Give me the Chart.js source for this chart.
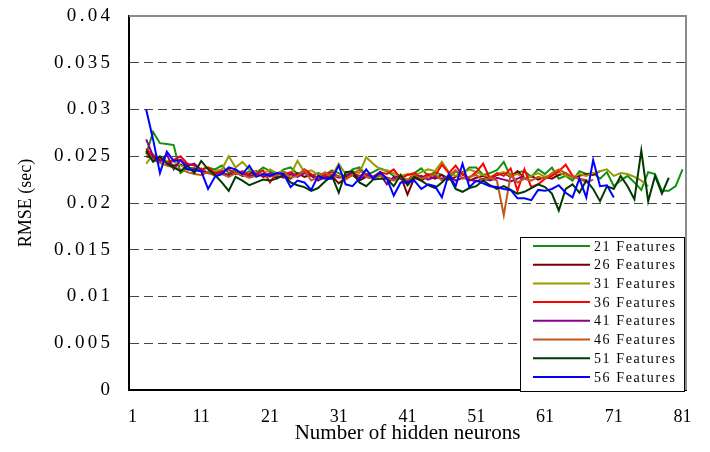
<!DOCTYPE html>
<html>
<head>
<meta charset="utf-8">
<script src="https://cdn.jsdelivr.net/npm/chart.js@4/dist/chart.umd.min.js"></script>
<style>
  html, body { margin: 0; padding: 0; background: #fff; }
  #wrap { width: 710px; height: 452px; position: relative; }
</style>
</head>
<body>
<div id="wrap"><canvas id="c" width="710" height="452"></canvas></div>
<script>
// Categories: number of hidden neurons
const neurons = [1,2,3,4,5,6,7,8,9,10,11,12,13,14,15,16,17,18,19,20,21,22,23,24,25,26,27,28,29,30,
  31,32,33,34,35,36,37,38,39,40,41,42,43,44,45,46,47,48,49,50,51,52,53,54,55,56,57,58,59,60,
  61,62,63,64,65,66,67,68,69,70,71,72,73,74,75,76,77,78,79,80,81];
// every series starts at 3 hidden neurons
const firstNeuron = 3;
const yTickLabels = ['0','0.005','0.01','0.015','0.02','0.025','0.03','0.035','0.04'];
const seriesNames = ['21 Features','26 Features','31 Features','36 Features','41 Features','46 Features','51 Features','56 Features'];

const f21 = [0.0252,0.0276,0.0264,0.0263,0.0262,0.0232,0.0238,0.0237,0.0236,0.0238,
  0.0236,0.0240,0.0232,0.0236,0.0230,0.0234,0.0232,0.0238,0.0234,0.0230,
  0.0236,0.0238,0.0231,0.0234,0.0229,0.0232,0.0230,0.0235,0.0232,0.0228,
  0.0236,0.0238,0.0230,0.0233,0.0237,0.0234,0.0229,0.0227,0.0224,0.0232,
  0.0237,0.0229,0.0233,0.0230,0.0226,0.0234,0.0231,0.0238,0.0238,0.0230,
  0.0232,0.0235,0.0244,0.0228,0.0233,0.0234,0.0228,0.0236,0.0231,0.0238,
  0.0226,0.0229,0.0224,0.0234,0.0231,0.0232,0.0226,0.0233,0.0218,0.0224,
  0.0229,0.0222,0.0214,0.0233,0.0231,0.0213,0.0213,0.0218,0.0236];
const f26 = [0.0250,0.0248,0.0246,0.0244,0.0240,0.0241,0.0236,0.0237,0.0234,0.0233,
  0.0231,0.0232,0.0230,0.0233,0.0229,0.0231,0.0234,0.0228,0.0230,0.0227,
  0.0229,0.0226,0.0232,0.0228,0.0230,0.0225,0.0227,0.0229,0.0221,0.0227,
  0.0230,0.0224,0.0228,0.0226,0.0231,0.0227,0.0225,0.0229,0.0209,0.0227,
  0.0224,0.0229,0.0226,0.0230,0.0225,0.0228,0.0233,0.0224,0.0227,0.0229,
  0.0226,0.0230,0.0232,0.0228,0.0234,0.0226,0.0229,0.0225,0.0228,0.0226,
  0.0230,0.0232,0.0227,0.0229,0.0231,0.0230,0.0234];
const f31 = [0.0242,0.0252,0.0248,0.0245,0.0244,0.0240,0.0238,0.0235,0.0237,0.0232,
  0.0234,0.0236,0.0250,0.0238,0.0244,0.0236,0.0233,0.0231,0.0236,0.0232,
  0.0234,0.0230,0.0245,0.0233,0.0235,0.0230,0.0232,0.0229,0.0242,0.0231,
  0.0234,0.0232,0.0249,0.0242,0.0236,0.0235,0.0232,0.0229,0.0231,0.0229,
  0.0233,0.0236,0.0234,0.0244,0.0233,0.0229,0.0232,0.0236,0.0233,0.0230,
  0.0228,0.0231,0.0233,0.0229,0.0231,0.0226,0.0229,0.0232,0.0228,0.0230,
  0.0233,0.0229,0.0227,0.0231,0.0229,0.0232,0.0234,0.0236,0.0229,0.0232,
  0.0231,0.0228,0.0224,0.0218];
const f36 = [0.0258,0.0250,0.0248,0.0243,0.0246,0.0250,0.0242,0.0240,0.0236,0.0238,
  0.0232,0.0234,0.0236,0.0231,0.0234,0.0229,0.0231,0.0235,0.0222,0.0232,
  0.0230,0.0233,0.0229,0.0236,0.0231,0.0227,0.0230,0.0233,0.0228,0.0226,
  0.0232,0.0229,0.0231,0.0228,0.0233,0.0231,0.0236,0.0226,0.0230,0.0232,
  0.0227,0.0231,0.0229,0.0241,0.0232,0.0240,0.0230,0.0227,0.0233,0.0242,
  0.0226,0.0232,0.0229,0.0237,0.0213,0.0236,0.0217,0.0220,0.0226,0.0229,
  0.0234,0.0241,0.0229,0.0226,0.0224];
const f41 = [0.0268,0.0250,0.0244,0.0252,0.0236,0.0246,0.0240,0.0242,0.0235,0.0232,
  0.0230,0.0233,0.0229,0.0232,0.0230,0.0228,0.0231,0.0229,0.0232,0.0229,
  0.0227,0.0231,0.0228,0.0232,0.0229,0.0224,0.0228,0.0230,0.0227,0.0229,
  0.0233,0.0226,0.0229,0.0228,0.0231,0.0220,0.0228,0.0226,0.0223,0.0227,
  0.0229,0.0225,0.0228,0.0226,0.0229,0.0224,0.0227,0.0225,0.0223,0.0226,
  0.0224,0.0227,0.0225,0.0223,0.0226,0.0229];
const f46 = [0.0255,0.0246,0.0243,0.0240,0.0238,0.0236,0.0233,0.0231,0.0230,0.0233,
  0.0229,0.0231,0.0228,0.0232,0.0230,0.0227,0.0229,0.0231,0.0228,0.0230,
  0.0233,0.0227,0.0229,0.0235,0.0224,0.0228,0.0233,0.0227,0.0229,0.0225,
  0.0230,0.0236,0.0228,0.0226,0.0229,0.0227,0.0224,0.0228,0.0225,0.0229,
  0.0226,0.0228,0.0231,0.0224,0.0229,0.0235,0.0226,0.0228,0.0230,0.0224,
  0.0227,0.0224,0.0187,0.0230,0.0222,0.0226,0.0224,0.0228,0.0226,0.0232,
  0.0236,0.0232,0.0228,0.0226,0.0222,0.0225];
const f51 = [0.0256,0.0244,0.0250,0.0242,0.0238,0.0234,0.0240,0.0232,0.0245,0.0236,
  0.0230,0.0222,0.0213,0.0228,0.0224,0.0219,0.0222,0.0225,0.0224,0.0226,
  0.0230,0.0222,0.0219,0.0217,0.0213,0.0216,0.0223,0.0229,0.0211,0.0233,
  0.0234,0.0222,0.0218,0.0225,0.0226,0.0226,0.0218,0.0230,0.0219,0.0228,
  0.0224,0.0219,0.0216,0.0222,0.0229,0.0215,0.0212,0.0216,0.0218,0.0224,
  0.0219,0.0215,0.0218,0.0214,0.0210,0.0212,0.0216,0.0220,0.0217,0.0210,
  0.0192,0.0215,0.0220,0.0211,0.0224,0.0215,0.0202,0.0218,0.0215,0.0229,
  0.0218,0.0204,0.0256,0.0202,0.0229,0.0210,0.0227];
const f56 = [0.0300,0.0268,0.0232,0.0255,0.0245,0.0246,0.0236,0.0235,0.0234,0.0215,
  0.0228,0.0231,0.0238,0.0236,0.0231,0.0240,0.0228,0.0231,0.0229,0.0232,
  0.0231,0.0217,0.0224,0.0222,0.0214,0.0229,0.0226,0.0226,0.0240,0.0220,
  0.0218,0.0226,0.0236,0.0226,0.0233,0.0226,0.0208,0.0222,0.0222,0.0224,
  0.0215,0.0220,0.0218,0.0206,0.0231,0.0218,0.0242,0.0217,0.0224,0.0221,
  0.0218,0.0217,0.0215,0.0214,0.0205,0.0205,0.0203,0.0214,0.0213,0.0215,
  0.0219,0.0211,0.0206,0.0226,0.0206,0.0246,0.0218,0.0219,0.0206];

const seriesValues = [f21, f26, f31, f36, f41, f46, f51, f56];
const seriesColors = ['#119011','#7a0000','#9a9a00','#ff0000','#8a008a','#c0581c','#003a00','#0000ff'];

const lead = neurons.indexOf(firstNeuron);
const datasets = seriesValues.map((vals, i) => ({
  label: seriesNames[i],
  data: new Array(lead).fill(null).concat(vals),
  borderColor: seriesColors[i],
  backgroundColor: seriesColors[i],
  borderWidth: 2,
  pointRadius: 0,
  tension: 0,
  fill: false,
  order: seriesValues.length - i
}));

const SERIF = '"Liberation Serif", "Times New Roman", serif';

const decor = {
  id: 'decor',
  afterDraw(chart) {
    const ctx = chart.ctx;
    const a = chart.chartArea;
    const ys = chart.scales.y;
    ctx.save();
    // top and right frame (grey)
    ctx.strokeStyle = '#8c8c8c';
    ctx.lineWidth = 2;
    ctx.beginPath();
    ctx.moveTo(a.left, a.top);
    ctx.lineTo(a.right, a.top);
    ctx.lineTo(a.right, a.bottom);
    ctx.stroke();
    // y tick labels, spaced like the original
    ctx.fillStyle = '#000';
    ctx.font = '19px ' + SERIF;
    ctx.letterSpacing = '3.3px';
    ctx.textAlign = 'right';
    ctx.textBaseline = 'middle';
    ys.ticks.forEach((t, i) => {
      ctx.fillText(yTickLabels[i], 113.3, ys.getPixelForValue(t.value));
    });
    // legend box
    const bx = 520, by = 237, bw = 164, bh = 154;
    ctx.fillStyle = '#fff';
    ctx.fillRect(bx, by, bw, bh);
    ctx.strokeStyle = '#000';
    ctx.lineWidth = 1;
    ctx.strokeRect(bx + 0.5, by + 0.5, bw, bh);
    ctx.font = '14px ' + SERIF;
    ctx.letterSpacing = '1.6px';
    ctx.textAlign = 'left';
    chart.data.datasets.forEach((ds, i) => {
      const y = 246 + i * 18.7;
      ctx.strokeStyle = ds.borderColor;
      ctx.lineWidth = 2;
      ctx.beginPath();
      ctx.moveTo(533, y);
      ctx.lineTo(590, y);
      ctx.stroke();
      ctx.fillStyle = '#000';
      ctx.fillText(ds.label, 594, y + 1);
    });
    ctx.restore();
  }
};

new Chart(document.getElementById('c'), {
  type: 'line',
  data: { labels: neurons, datasets },
  options: {
    responsive: false,
    animation: false,
    events: [],
    layout: { padding: { top: 16, right: 24, left: 0, bottom: 0 } },
    plugins: { legend: { display: false }, tooltip: { enabled: false } },
    scales: {
      x: {
        type: 'category',
        offset: true,
        grid: { display: false, drawTicks: false },
        border: { display: true, color: '#000', width: 2 },
        ticks: {
          autoSkip: false,
          maxRotation: 0,
          padding: 16,
          color: '#000',
          font: { family: SERIF, size: 18 },
          callback: function(v, i) { return (i % 10 === 0) ? String(neurons[i]) : ''; }
        },
        title: {
          display: true,
          text: 'Number of hidden neurons',
          color: '#000',
          font: { family: SERIF, size: 21 },
          padding: { top: 0, bottom: 6 }
        },
        afterFit(scale) { scale.height = 62; }
      },
      y: {
        min: 0,
        max: 0.04,
        ticks: { stepSize: 0.005, display: false },
        grid: {
          drawTicks: false,
          color: (c) => (c.tick && (c.tick.value === 0 || Math.abs(c.tick.value - 0.04) < 1e-9)) ? 'rgba(0,0,0,0)' : '#444',
          lineWidth: 1
        },
        border: { display: true, color: '#000', width: 2, dash: [9, 5] },
        title: {
          display: true,
          text: 'RMSE (sec)',
          color: '#000',
          font: { family: SERIF, size: 18 },
          padding: { top: 15, bottom: 0 }
        },
        afterFit(scale) { scale.width = 129; }
      }
    }
  },
  plugins: [decor]
});
</script>
</body>
</html>
